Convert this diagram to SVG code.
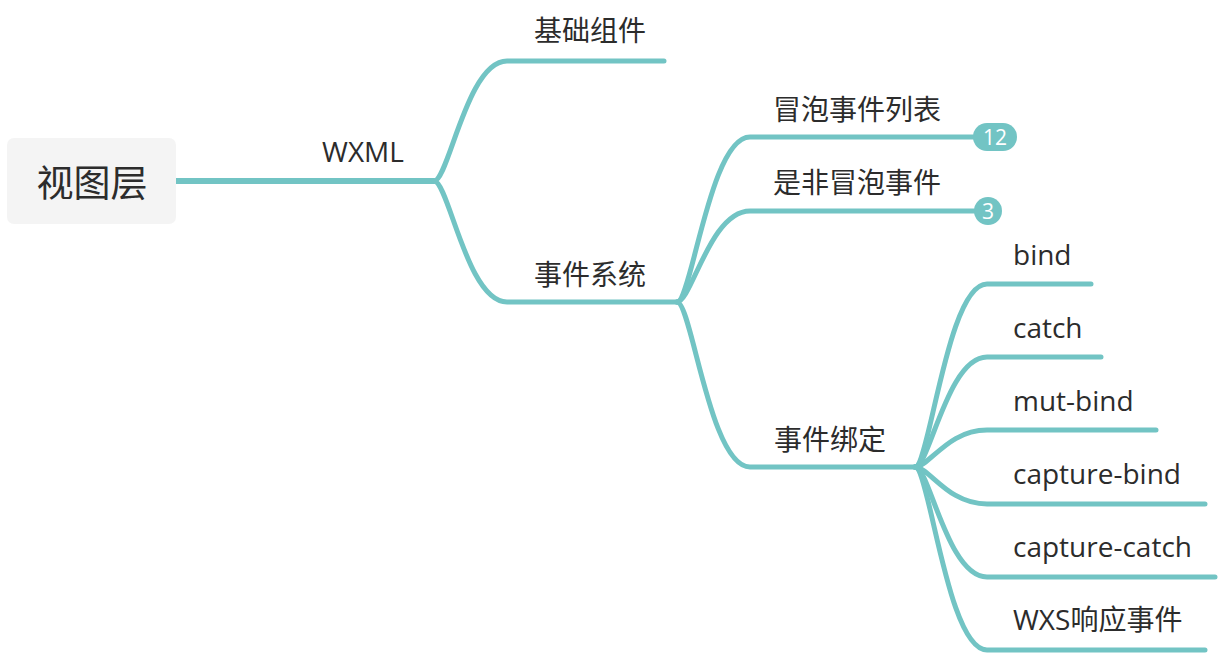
<svg xmlns="http://www.w3.org/2000/svg" width="1222" height="654" viewBox="0 0 1222 654">
<style>
.t{font-family:"Open Sans","Noto Sans CJK SC",sans-serif;font-size:28px;fill:#2c2c2c}
.c{text-anchor:middle}
.l{fill:none;stroke:#72c4c4;stroke-width:5;stroke-linecap:round;stroke-linejoin:round}
.b{fill:#72c4c4}
.bt{font-family:"Open Sans",sans-serif;font-size:21px;fill:#ffffff;text-anchor:middle}
</style>
<rect width="1222" height="654" fill="#ffffff"/>
<g id="connectors">
<path class="l" d="M176,181 H434" style="stroke-width:6"/>
<path class="l" d="M434,181 C448.6,181 466.9,61 507,61 H664"/>
<path class="l" d="M434,181 C448.6,181 466.9,302 507,302 H677"/>
<path class="l" d="M677,302 C691.6,302 709.9,137 750,137 H975"/>
<path class="l" d="M677,302 C691.6,302 709.9,211 750,211 H975"/>
<path class="l" d="M677,302 C691.6,302 709.9,467 750,467 H915"/>
<path class="l" d="M915,467 C929.4,467 947.4,284 987,284 H1091"/>
<path class="l" d="M915,467 C929.4,467 947.4,357 987,357 H1101"/>
<path class="l" d="M915,467 C929.4,467 947.4,430 987,430 H1156"/>
<path class="l" d="M915,467 C929.4,467 947.4,504 987,504 H1205"/>
<path class="l" d="M915,467 C929.4,467 947.4,577 987,577 H1215"/>
<path class="l" d="M915,467 C929.4,467 947.4,650 987,650 H1205"/>
</g>
<g id="root">
<rect x="7" y="138" width="169" height="86" rx="7" fill="#f4f4f4"/>
<text class="t c" x="92" y="197" style="font-size:37px">视图层</text>
</g>
<g id="n-wxml"><text class="t c" x="363" y="162">WXML</text></g>
<g id="n-jichu"><text class="t c" x="590" y="41">基础组件</text></g>
<g id="n-shijianxitong"><text class="t c" x="590" y="285">事件系统</text></g>
<g id="n-maopao">
<text class="t c" x="857" y="120">冒泡事件列表</text>
<rect class="b" x="973" y="123" width="44" height="28" rx="14"/>
<text class="bt" x="995" y="144.5">12</text>
</g>
<g id="n-feimaopao">
<text class="t c" x="857" y="193">是非冒泡事件</text>
<circle class="b" cx="988" cy="211" r="14"/>
<text class="bt" x="988" y="218.5">3</text>
</g>
<g id="n-bangding"><text class="t c" x="830" y="450">事件绑定</text></g>
<g id="n-bind"><text class="t" x="1013" y="265">bind</text></g>
<g id="n-catch"><text class="t" x="1013" y="338">catch</text></g>
<g id="n-mutbind"><text class="t" x="1013" y="411">mut-bind</text></g>
<g id="n-capturebind"><text class="t" x="1013" y="484">capture-bind</text></g>
<g id="n-capturecatch"><text class="t" x="1013" y="557">capture-catch</text></g>
<g id="n-wxs"><text class="t" x="1013" y="630">WXS响应事件</text></g>
</svg>
